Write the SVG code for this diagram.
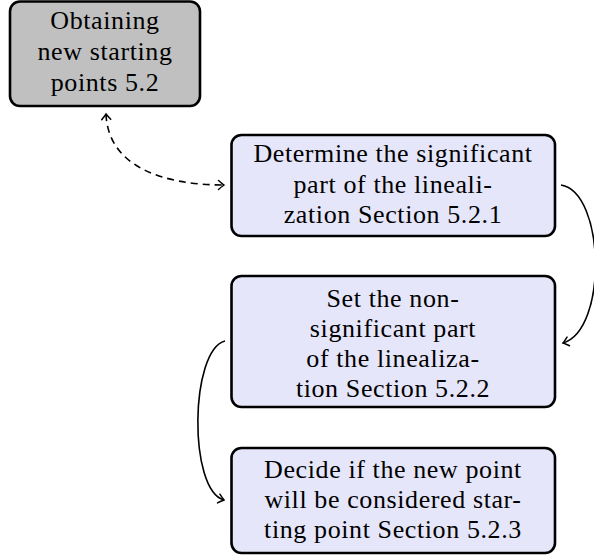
<svg xmlns="http://www.w3.org/2000/svg" width="594" height="558" viewBox="0 0 594 558">
<style>
.box{stroke:#000;stroke-width:2.6}
.g{fill:#c0c0c0}
.b{fill:#e6e6fa}
text{font-family:"Liberation Serif","Times New Roman",serif;font-size:26px;text-anchor:middle;fill:#000;letter-spacing:0.6px}
.c{fill:none;stroke:#000;stroke-width:1.6}
.d{stroke-dasharray:7 5}
</style>
<defs>
<marker id="ah" viewBox="-8 -6 10 12" markerWidth="10" markerHeight="12" refX="0" refY="0" orient="auto-start-reverse" markerUnits="userSpaceOnUse">
<path d="M -5.5 -4.5 Q -1.5 -1 0 0 Q -1.5 1 -5.5 4.5" fill="none" stroke="#000" stroke-width="1.5" stroke-linecap="round"/>
</marker>
</defs>
<g id="connectors">
<path class="c d" d="M 106 114 C 108 165 160 185 224 185" marker-start="url(#ah)" marker-end="url(#ah)"/>
<path class="c" d="M 561 185 C 605 192 608 330 563 343" marker-end="url(#ah)"/>
<path class="c" d="M 225 341 C 190 350 188 490 224 500" marker-end="url(#ah)"/>
</g>
<g id="n1">
<rect class="box g" x="10" y="1.5" width="190" height="104.5" rx="10"/>
<text x="105" y="29">Obtaining</text>
<text x="105" y="60">new starting</text>
<text x="105" y="91">points 5.2</text>
</g>
<g id="n2">
<rect class="box b" x="231.5" y="135" width="323.5" height="101" rx="10"/>
<text x="393" y="162">Determine the significant</text>
<text x="393" y="192.5">part of the lineali-</text>
<text x="393" y="223">zation Section 5.2.1</text>
</g>
<g id="n3">
<rect class="box b" x="231.5" y="276" width="323.5" height="131" rx="10"/>
<text x="393" y="307">Set the non-</text>
<text x="393" y="337">significant part</text>
<text x="393" y="367">of the linealiza-</text>
<text x="393" y="397">tion Section 5.2.2</text>
</g>
<g id="n4">
<rect class="box b" x="231.5" y="448" width="323.5" height="105" rx="10"/>
<text x="393" y="478">Decide if the new point</text>
<text x="393" y="508">will be considered star-</text>
<text x="393" y="538">ting point Section 5.2.3</text>
</g>
</svg>
